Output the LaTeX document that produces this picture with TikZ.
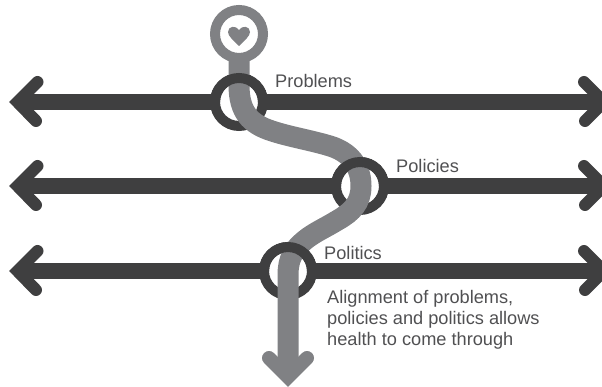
\documentclass[tikz,border=0pt]{standalone}
\usepackage{fontspec}
\setmainfont{Liberation Sans}
\usetikzlibrary{arrows.meta}
\definecolor{darkbar}{HTML}{3F3F40}
\definecolor{midgray}{HTML}{808184}
\definecolor{labelgray}{HTML}{505052}
\tikzset{
  x=1pt,y=-1pt,
  axis/.style={draw=darkbar,line width=16pt},
  axishead/.style={draw=darkbar,line width=12pt,line cap=round,line join=miter},
  ringpart/.style={draw=darkbar,line width=10pt},
  stream/.style={draw=midgray,line width=21pt},
  streamhead/.style={draw=midgray,line width=14pt,line cap=round,line join=miter},
  lab/.style={text=labelgray,font=\fontsize{18.2}{20}\selectfont,inner sep=0pt,anchor=base west},
}
\begin{document}
\begin{tikzpicture}
\useasboundingbox (0,0) rectangle (602,387);
\clip (0,0) rectangle (602,387);
% axes
\foreach \yy in {102,186,271}{
  \draw[axis] (22,\yy) -- (600,\yy);
  \draw[axishead] (37.5,\yy-20) -- (17.5,\yy) -- (36,\yy+19);
  \draw[axishead] (584,\yy-20) -- (604,\yy) -- (585,\yy+19);
}
% rings
\foreach \cx/\cy in {239/102,360/186,288/271}{
  \draw[ringpart,fill=white] (\cx,\cy) circle[radius=24];
}
% top circle
\draw[draw=midgray,line width=10pt,fill=white] (239,34) circle[radius=24];
% stream
\draw[stream] (239,58) -- (239,85)
  .. controls (239,112) and (250,124) .. (272,131)
  .. controls (290,137) and (315,141) .. (333,147)
  .. controls (352,154) and (361,168) .. (361,186)
  .. controls (361,203) and (352,212) .. (338,220)
  .. controls (325,228) and (315,232) .. (305,240)
  .. controls (294,249) and (288,258) .. (288,275)
  -- (288,372);
\draw[streamhead] (269,358) -- (288,377) -- (307,358);
% ring fronts
\foreach \cx/\cy in {239/102,360/186,288/271}{
  \draw[ringpart] (\cx+24,\cy) arc[start angle=0,end angle=-180,radius=24];
}
% heart
\fill[midgray] (239,46)
  .. controls (233,40) and (228,36) .. (228,32)
  .. controls (228,26) and (236,25) .. (239,30)
  .. controls (242,25) and (250,26) .. (250,32)
  .. controls (250,36) and (245,40) .. (239,46) -- cycle;
% labels
\node[lab] (problems) at (275,88) {Problems};
\node[lab] (policies) at (396,173) {Policies};
\node[lab] (politics) at (324,259) {Politics};
\node[lab] (align1) at (327,303) {Alignment of problems,};
\node[lab] (align2) at (327,324) {policies and politics allows};
\node[lab] (align3) at (327,345) {health to come through};
\end{tikzpicture}
\end{document}
